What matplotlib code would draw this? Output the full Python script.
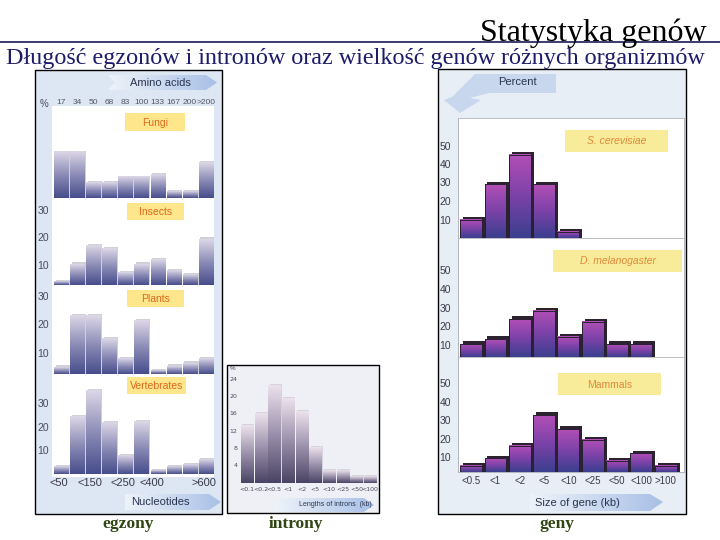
import numpy as np
import matplotlib
matplotlib.use("Agg")
import matplotlib.pyplot as plt
from matplotlib.colors import LinearSegmentedColormap
from matplotlib.patches import Rectangle, Polygon

# --- data ---
exon_top_labels = ["17", "34", "50", "68", "83", "100", "133", "167", "200", ">200"]
exon_bottom_labels = ["<50", "<150", "<250", "<400", ">600"]
exon_bottom_pos = [-0.15, 1.77, 3.82, 5.62, 8.85]
fungi = [19.8, 19.8, 8.3, 8.3, 10.4, 10.4, 11.2, 5.0, 5.0, 15.8]
insects = [3.9, 10.3, 16.9, 15.8, 7.2, 10.3, 11.8, 7.8, 6.6, 19.4]
plants = [5.0, 23.0, 23.0, 14.9, 8.1, 21.2, 3.8, 5.4, 6.4, 8.1]
vertebrates = [3.1, 24.2, 35.1, 21.8, 7.7, 22.1, 1.4, 3.1, 4.2, 6.3]

intron_labels = ["<0.1", "<0.2", "<0.5", "<1", "<2", "<5", "<10", "<25", "<50", "<100"]
introns = [13.3, 16.0, 22.5, 19.5, 16.6, 8.2, 2.9, 2.8, 1.4, 1.4]

gene_labels = ["<0.5", "<1", "<2", "<5", "<10", "<25", "<50", "<100", ">100"]
s_cerevisiae = [10, 29, 45, 29, 3.5]
d_melanogaster = [10.4, 13.2, 23.8, 28.4, 14.5, 22.5, 10.4, 10.4]
mammals = [5.3, 9.3, 16.1, 32.7, 25.1, 19.2, 8.0, 12.0, 5.3]

W, H = 720, 540
SANS = "Liberation Sans"
SERIF = "Liberation Serif"

fig = plt.figure(figsize=(7.2, 5.4), dpi=100)


def px_axes(x0, y0, x1, y1):
    # axes from pixel box (origin top-left)
    return fig.add_axes([x0 / W, 1 - y1 / H, (x1 - x0) / W, (y1 - y0) / H])


def pixel_canvas(ax):
    ax.set_xlim(0, W)
    ax.set_ylim(H, 0)
    ax.axis("off")


vgrad = np.linspace(0, 1, 128).reshape(-1, 1)
hgrad = np.linspace(0, 1, 128).reshape(1, -1)
exon_cmap = LinearSegmentedColormap.from_list("ex", ["#464d8b", "#8c8cb6", "#ddd7e7"])
intron_cmap = LinearSegmentedColormap.from_list("in", ["#4a4464", "#9a90ab", "#ece2ec"])
gene_cmap = LinearSegmentedColormap.from_list("ge", ["#3a3f8e", "#7b42a8", "#b24fb6"])
arrow_cmap = LinearSegmentedColormap.from_list("ar", ["#eef3fa", "#a8c0e6"])


def grad_bars(ax, values, cmap, lo, hi, width, shadow=None, dx=0.0, dy=0.0, edge=None):
    for i, v in enumerate(values):
        x0 = i - width / 2
        if shadow:
            ax.add_patch(Rectangle((x0 + dx, lo), width, v - lo + dy, color=shadow, zorder=1, lw=0))
        ax.imshow(vgrad, extent=(x0, x0 + width, lo, v), origin="lower", cmap=cmap,
                  aspect="auto", zorder=2, interpolation="bilinear")
        if edge:
            ax.add_patch(Rectangle((x0, lo), width, v - lo, fill=False, ec=edge, lw=0.7, zorder=3))
    ax.set_ylim(lo, hi)


# background layer: panels
bg = px_axes(0, 0, W, H)
pixel_canvas(bg)
bg.add_patch(Rectangle((35, 70), 187, 444, fc="#dde6f3", ec="black", lw=1))
bg.add_patch(Rectangle((52, 106), 162, 371, fc="white", ec="none"))
bg.add_patch(Rectangle((227, 365), 152, 148, fc="#eef0f5", ec="black", lw=1))
bg.add_patch(Rectangle((438, 69), 248, 445, fc="#e8eef6", ec="black", lw=1))
bg.add_patch(Rectangle((458, 118), 226, 354, fc="white", ec="#b4b4bc", lw=0.6))

# title + subtitle
bg.plot([0, W], [42, 42], color="#1a1a55", lw=1.2)
bg.text(707, 41, "Statystyka genów", ha="right", va="baseline", fontsize=23,
        family=SERIF, color="black")
bg.text(355, 64, "Długość egzonów i intronów oraz wielkość genów różnych organizmów",
        ha="center", va="baseline", fontsize=17.4, family=SERIF, color="#1c1c6a")

# --- exons ---
exon_specs = [
    (fungi, 106, 198.3, 2.5, 2.67, False),
    (insects, 200, 285, 2.7, 2.75, True),
    (plants, 287, 374, 2.6, 2.85, True),
    (vertebrates, 376, 474, 0.0, 2.37, True),
]
exon_axes = []
for vals, ytop, ybot, lo, scale, ticks in exon_specs:
    ax = px_axes(53, ytop, 214, ybot)
    hi = lo + (ybot - ytop) / scale
    grad_bars(ax, vals, exon_cmap, lo, hi, 0.88, shadow="#cfd0d8", dx=0.1, dy=0.6)
    ax.set_xlim(-0.5, 9.5)
    ax.set_facecolor("white")
    for s in ax.spines.values():
        s.set_visible(False)
    ax.set_xticks([])
    if ticks:
        ax.set_yticks([10, 20, 30])
        ax.tick_params(axis="y", length=0, pad=3, labelsize=7.5, labelcolor="#4a4a5a")
        for t in ax.get_yticklabels():
            t.set_family(SANS)
    else:
        ax.set_yticks([])
    exon_axes.append(ax)

ax_f = exon_axes[0]
for i, lab in enumerate(exon_top_labels):
    ax_f.text(i, 1.043, lab, transform=ax_f.get_xaxis_transform(), ha="center", va="center",
              fontsize=6, family=SANS, color="#555566")
ax_v = exon_axes[3]
for x, lab in zip(exon_bottom_pos, exon_bottom_labels):
    ax_v.text(x, -0.092, lab, transform=ax_v.get_xaxis_transform(), ha="center", va="center",
              fontsize=8, family=SANS, color="#3a3a4a")

# --- introns ---
ax_i = px_axes(240, 368, 377, 482.7)
grad_bars(ax_i, introns, intron_cmap, 0, 114.7 / 4.33, 0.88, shadow="#d4d4dc", dx=0.1, dy=0.3)
ax_i.set_xlim(-0.5, 9.5)
ax_i.set_facecolor("none")
for s in ax_i.spines.values():
    s.set_visible(False)
ax_i.set_yticks([4, 8, 12, 16, 20, 24])
ax_i.set_xticks(range(len(intron_labels)))
ax_i.set_xticklabels(intron_labels)
ax_i.tick_params(length=0, labelsize=4.5, labelcolor="#4a4a5a", pad=2)
ax_i.tick_params(axis="x", pad=3)
ax_i.text(-0.055, 1.0, "%", transform=ax_i.transAxes, fontsize=4.5, color="#4a4a5a",
          ha="center", va="center", family=SANS)

# --- genes ---
gene_specs = [
    (s_cerevisiae, 118, 238, 0.0, 1.85),
    (d_melanogaster, 238, 357, 3.6, 1.87),
    (mammals, 357, 472, 1.9, 1.85),
]
gene_axes = []
for vals, ytop, ybot, lo, scale in gene_specs:
    ax = px_axes(458, ytop, 684, ybot)
    hi = lo + (ybot - ytop) / scale
    grad_bars(ax, vals, gene_cmap, lo, hi, 0.9, shadow="#2c2230", dx=0.12, dy=1.5, edge="#262030")
    ax.set_xlim(-0.54, 8.75)
    ax.set_facecolor("none")
    for name, s in ax.spines.items():
        s.set_color("#b4b4bc")
        s.set_linewidth(0.6)
    ax.spines["top"].set_visible(False)
    ax.set_yticks([10, 20, 30, 40, 50])
    ax.set_xticks([])
    ax.tick_params(axis="y", length=0, pad=5, labelsize=7.5, labelcolor="#3a3a4a")
    for t in ax.get_yticklabels():
        t.set_family(SANS)
    gene_axes.append(ax)

ax_m = gene_axes[2]
ax_m.set_xticks(range(len(gene_labels)))
ax_m.set_xticklabels(gene_labels, family=SANS)
ax_m.tick_params(axis="x", length=0, pad=3, labelsize=7, labelcolor="#3a3a4a")

# --- overlay: label boxes, arrows, captions ---
top = px_axes(0, 0, W, H)
top.set_zorder(10)
pixel_canvas(top)


def label_box(x0, y0, x1, y1, text, fc, tc, size, style="normal"):
    top.add_patch(Rectangle((x0, y0), x1 - x0, y1 - y0, fc=fc, ec="none"))
    top.text((x0 + x1) / 2, (y0 + y1) / 2 + 0.5, text, ha="center", va="center", fontsize=size,
             color=tc, family=SANS, style=style)


label_box(125, 113, 185, 131, "Fungi", "#fde68c", "#de6a1c", 7.5)
label_box(127, 203, 184, 220, "Insects", "#fde68c", "#de6a1c", 7.5)
label_box(127, 290, 184, 307, "Plants", "#fde68c", "#de6a1c", 7.5)
label_box(127, 377, 186, 394, "Vertebrates", "#fde68c", "#de6a1c", 7.5)
label_box(565, 130, 668, 152, "S. cerevisiae", "#f8ec9a", "#e2883a", 7.5, "italic")
label_box(553, 250, 682, 272, "D. melanogaster", "#f8ec9a", "#e2883a", 7.5, "italic")
label_box(558, 373, 661, 395, "Mammals", "#f8ec9a", "#e2883a", 7.5)


def band_arrow(pts, x0, x1, y0, y1):
    poly = Polygon(pts, closed=True, fc="none", ec="none")
    top.add_patch(poly)
    im = top.imshow(hgrad, extent=(x0, x1, y1, y0), cmap=arrow_cmap, aspect="auto",
                    interpolation="bilinear")
    im.set_clip_path(poly)


band_arrow([(108, 75), (206, 75), (217, 82.5), (206, 90), (108, 90), (115, 82.5)], 108, 217, 75, 90)
band_arrow([(125, 494), (209, 494), (221, 502), (209, 510), (125, 510)], 125, 221, 494, 510)
band_arrow([(275, 498), (364, 498), (374, 505), (364, 512), (275, 512)], 275, 374, 498, 512)
band_arrow([(530, 494), (650, 494), (663, 502), (650, 511), (530, 511)], 530, 663, 494, 511)
# bent "Percent" arrow
pct = Polygon([(556, 74), (475, 74), (452, 97), (444, 100), (460, 113), (481, 100),
               (470, 98), (489, 93), (556, 93)], closed=True, fc="#c8d7ee", ec="none")
top.add_patch(pct)
pixel_canvas(top)

top.text(160, 82.5, "Amino acids", ha="center", va="center", fontsize=8, family=SANS, color="#2a3450")
top.text(160, 502, "Nucleotides", ha="center", va="center", fontsize=8, family=SANS, color="#2a3450")
top.text(335, 505, "Lengths of introns  (kb)", ha="center", va="center", fontsize=5, family=SANS, color="#2a3450")
top.text(577, 502.5, "Size of gene (kb)", ha="center", va="center", fontsize=8, family=SANS, color="#2a3450")
top.text(517, 82, "Percent", ha="center", va="center", fontsize=8, family=SANS, color="#2a3450")
top.text(44, 104, "%", ha="center", va="center", fontsize=7, family=SANS, color="#4a4a5a")

# captions under the panels
for x, txt in [(128, "egzony"), (296, "introny"), (557, "geny")]:
    top.text(x, 524, txt, ha="center", va="center", fontsize=12.5, family=SERIF,
             fontweight="bold", color="#2f4612")

fig.savefig("out.png", dpi=100)
